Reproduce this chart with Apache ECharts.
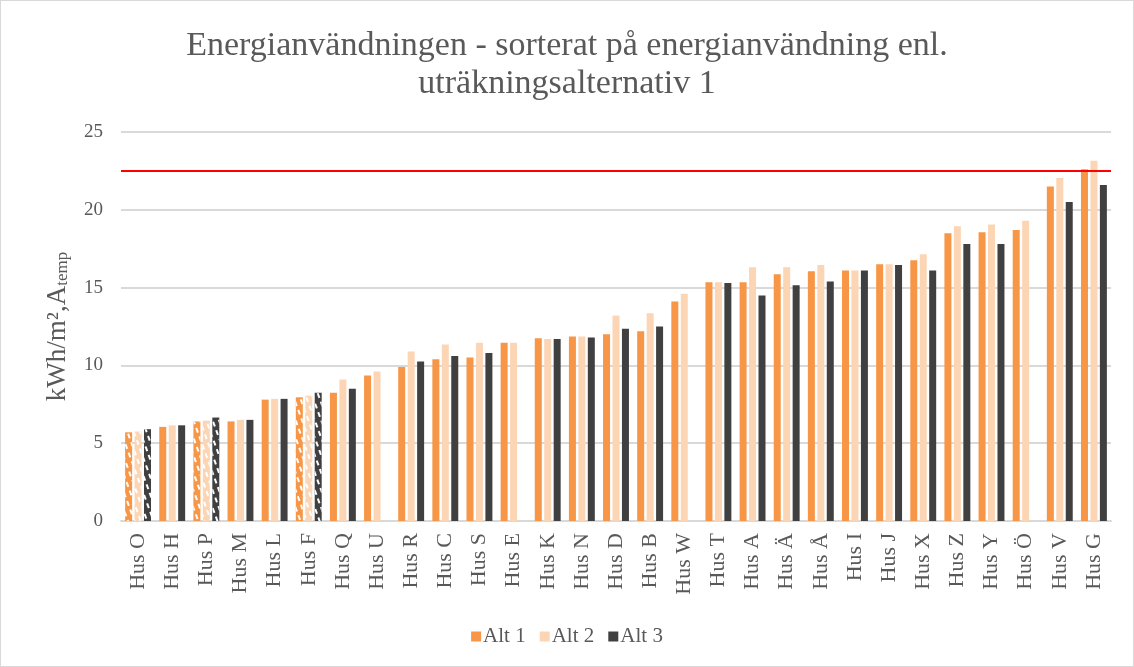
<!DOCTYPE html>
<html>
<head>
<meta charset="utf-8">
<script src="https://cdn.jsdelivr.net/npm/echarts@6/dist/echarts.min.js"></script>
<style>
  html, body { margin: 0; padding: 0; background: #fff; }
  #chart { width: 1132px; height: 665px; border: 1px solid #d9d9d9; }
</style>
</head>
<body>
<div id="chart"></div>
<script>
// kategorier (hus), sorterade på Alt 1
const categories = ["Hus O", "Hus H", "Hus P", "Hus M", "Hus L", "Hus F", "Hus Q", "Hus U", "Hus R", "Hus C",
  "Hus S", "Hus E", "Hus K", "Hus N", "Hus D", "Hus B", "Hus W", "Hus T", "Hus A", "Hus Ä",
  "Hus Å", "Hus I", "Hus J", "Hus X", "Hus Z", "Hus Y", "Hus Ö", "Hus V", "Hus G"];
const alt1 = [5.7, 6.05, 6.4, 6.4, 7.8, 7.95, 8.25, 9.35, 9.9, 10.4, 10.5, 11.45, 11.75, 11.85, 12.0, 12.2, 14.1, 15.35, 15.35, 15.85, 16.05, 16.1, 16.5, 16.75, 18.5, 18.55, 18.7, 21.5, 22.6];
const alt2 = [5.75, 6.15, 6.45, 6.5, 7.85, 8.05, 9.1, 9.6, 10.9, 11.35, 11.45, 11.45, 11.7, 11.85, 13.2, 13.35, 14.6, 15.35, 16.3, 16.3, 16.45, 16.1, 16.5, 17.15, 18.95, 19.05, 19.3, 22.05, 23.15];
const alt3 = [5.9, 6.15, 6.65, 6.5, 7.85, 8.25, 8.5, null, 10.25, 10.6, 10.8, null, 11.7, 11.8, 12.35, 12.5, null, 15.3, 14.5, 15.15, 15.4, 16.1, 16.45, 16.1, 17.8, 17.8, null, 20.5, 21.6];
// hus med streckade staplar
const hatched = ["Hus O", "Hus P", "Hus F"];
const limit = 22.5;
const yTicks = [0, 5, 10, 15, 20, 25];

const colors = ["#F79646", "#FCD5B5", "#404040"];
const font = "Liberation Serif";
const textColor = "#595959";

let myChart = echarts.init(document.getElementById("chart"));

// bygger data med streckmönster för vissa hus
function build(values) {
  return values.map(function (v, i) {
    if (v === null) return "-";
    if (hatched.indexOf(categories[i]) >= 0) {
      return {
        value: v,
        itemStyle: {
          decal: {
            symbol: "rect",
            color: "#ffffff",
            symbolSize: 1,
            dashArrayX: [2, 4],
            dashArrayY: [5, 4],
            rotation: -0.35
          }
        }
      };
    }
    return v;
  });
}

const seriesNames = ["Alt 1", "Alt 2", "Alt 3"];
const seriesData = [alt1, alt2, alt3];

let series = seriesData.map(function (vals, k) {
  let s = {
    name: seriesNames[k],
    type: "bar",
    data: build(vals),
    barWidth: 7,
    barGap: "35%",
    itemStyle: { color: colors[k] }
  };
  if (k === 0) {
    // gränsvärde
    s.markLine = {
      silent: true,
      symbol: "none",
      label: { show: false },
      lineStyle: { color: "#FF0000", width: 2, type: "solid" },
      data: [{ yAxis: limit }]
    };
  }
  return s;
});

myChart.setOption({
  animation: false,
  textStyle: { fontFamily: font },
  title: {
    text: "Energianvändningen - sorterat på energianvändning enl.\nuträkningsalternativ 1",
    left: "center",
    top: 21,
    textStyle: {
      fontFamily: font,
      fontWeight: "normal",
      fontSize: 34,
      color: textColor,
      lineHeight: 38
    }
  },
  legend: {
    bottom: 14,
    left: "center",
    itemWidth: 10,
    itemHeight: 10,
    itemGap: 14,
    icon: "rect",
    textStyle: { fontFamily: font, fontSize: 21, color: textColor, padding: [0, 0, 0, -3] },
    data: seriesNames
  },
  grid: {
    left: 120,
    right: 22,
    top: 131,
    bottom: 145
  },
  xAxis: {
    type: "category",
    data: categories,
    axisLine: { lineStyle: { color: "#D9D9D9", width: 2 } },
    axisTick: { show: false },
    axisLabel: {
      rotate: 90,
      interval: 0,
      margin: 12,
      fontFamily: font,
      fontSize: 22,
      color: textColor
    }
  },
  yAxis: {
    type: "value",
    min: 0,
    max: yTicks[yTicks.length - 1],
    interval: 5,
    name: "{a|kWh/m²,A}{b|temp}",
    nameLocation: "middle",
    nameGap: 50,
    nameTextStyle: {
      rich: {
        a: { fontFamily: font, fontSize: 27, color: textColor },
        b: { fontFamily: font, fontSize: 17, color: textColor, padding: [10, 0, 0, 0] }
      }
    },
    axisLine: { show: false },
    axisTick: { show: false },
    axisLabel: { fontFamily: font, fontSize: 19, color: textColor, margin: 18 },
    splitLine: { lineStyle: { color: "#D9D9D9", width: 2 } }
  },
  series: series
});
</script>
</body>
</html>
